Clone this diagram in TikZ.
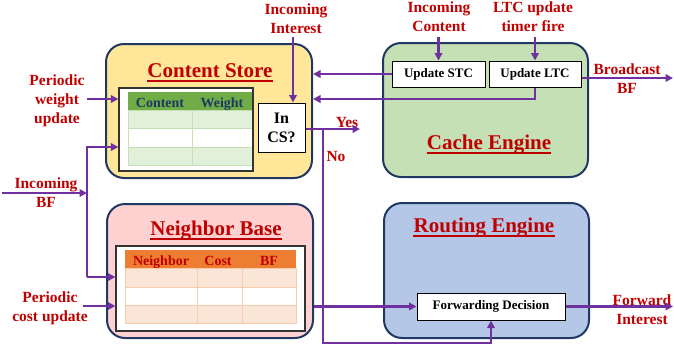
\documentclass[tikz,border=0pt]{standalone}
\usepackage{fontspec}
\setmainfont{Liberation Serif}
\usetikzlibrary{arrows.meta}
\definecolor{navy}{HTML}{1F3864}
\definecolor{pur}{HTML}{7030A0}
\definecolor{dred}{HTML}{C00000}
\definecolor{csfill}{HTML}{FFE699}
\definecolor{cefill}{HTML}{C5E0B4}
\definecolor{nbfill}{HTML}{FFD1D1}
\definecolor{refill}{HTML}{B4C7E7}
\definecolor{tgreen}{HTML}{70AD47}
\definecolor{tgreenl}{HTML}{E2EFDA}
\definecolor{tgreenline}{HTML}{C5E0B4}
\definecolor{torange}{HTML}{ED7D31}
\definecolor{torangel}{HTML}{FBE5D6}
\definecolor{torangeline}{HTML}{F8CBAD}
\begin{document}
\begin{tikzpicture}[x=1pt,y=-1pt,
  bigbox/.style={draw=navy, line width=2pt, rounded corners=18pt, inner sep=0pt},
  smallbox/.style={draw=black, fill=white, line width=1pt, inner sep=0pt, font=\fontsize{13}{15}\selectfont\bfseries},
  innerbox/.style={draw=black!80, fill=white, line width=1.2pt, inner sep=0pt},
  lbl/.style={text=dred, align=center, font=\fontsize{15.5}{19}\selectfont\bfseries, inner sep=0pt},
  ttl/.style={text=dred, font=\fontsize{21}{24}\selectfont\bfseries, inner sep=0pt, anchor=base},
  ul/.style={draw=dred, line width=2.5pt},
  arr/.style={draw=pur, line width=2.2pt, -{Triangle[length=7.5pt,width=7.5pt]}},
  th/.style={font=\fontsize{14}{16}\selectfont\bfseries, inner sep=0pt, anchor=base}
]
\useasboundingbox (0,0) rectangle (674,349);

% big boxes
\node[bigbox, fill=csfill, minimum width=206pt, minimum height=134pt] (cs) at (209,111) {};
\node[bigbox, fill=cefill, minimum width=205pt, minimum height=134pt] (ce) at (485.5,110) {};
\node[bigbox, fill=nbfill, minimum width=206pt, minimum height=134pt] (nb) at (210,271) {};
\node[bigbox, fill=refill, minimum width=205pt, minimum height=135pt] (re) at (486.5,270.5) {};

% titles
\node[ttl] (cst) at (210,77) {Content Store};
\draw[ul] ([yshift=-4pt]cst.base west) -- ([yshift=-4pt]cst.base east);
\node[ttl] (cet) at (489,149) {Cache Engine};
\draw[ul] ([yshift=-4pt]cet.base west) -- ([yshift=-4pt]cet.base east);
\node[ttl] (nbt) at (216,235) {Neighbor Base};
\draw[ul] ([yshift=-4pt]nbt.base west) -- ([yshift=-4pt]nbt.base east);
\node[ttl] (ret) at (484,232) {Routing Engine};
\draw[ul] ([yshift=-4pt]ret.base west) -- ([yshift=-4pt]ret.base east);

% inner boxes
\node[innerbox, minimum width=134pt, minimum height=83pt] (csin) at (186,129.5) {};
\node[innerbox, minimum width=189pt, minimum height=85pt] (nbin) at (210.5,288.5) {};

% content table
\fill[tgreen] (128,92) rectangle (252,110);
\fill[tgreenl] (128,110) rectangle (252,128);
\fill[white] (128,128) rectangle (252,147);
\fill[tgreenl] (128,147) rectangle (252,165);
\draw[tgreenline, line width=1pt] (128,110) -- (252,110) (128,128) -- (252,128)
  (128,147) -- (252,147) (192,110) -- (192,165) (128,110) -- (128,165) -- (252,165);
\node[th, text=navy] (hc1) at (160,107) {Content};
\node[th, text=navy] (hc2) at (222,107) {Weight};

% neighbor table
\fill[torange] (125,250) rectangle (296,268);
\fill[torangel] (125,268) rectangle (296,287);
\fill[white] (125,287) rectangle (296,305);
\fill[torangel] (125,305) rectangle (296,323);
\draw[torangeline, line width=1pt] (125,268) -- (296,268) (125,287) -- (296,287)
  (125,305) -- (296,305) (197,268) -- (197,323) (242,268) -- (242,323)
  (125,268) -- (125,323) -- (296,323) -- (296,268);
\node[th, text=dred] (hn1) at (161,265) {Neighbor};
\node[th, text=dred] (hn2) at (218,265) {Cost};
\node[th, text=dred] (hn3) at (269,265) {BF};

% small boxes
\node[smallbox, minimum width=47pt, minimum height=49pt, align=center,
  font=\fontsize{16}{19}\selectfont\bfseries] (incs) at (281.5,127.5) {In\\CS?};
\node[smallbox, minimum width=93pt, minimum height=26pt] (ustc) at (438.5,74) {Update STC};
\node[smallbox, minimum width=92pt, minimum height=26pt] (ultc) at (535,74) {Update LTC};
\node[smallbox, minimum width=148pt, minimum height=27pt] (fd) at (491,306.5) {Forwarding Decision};

% labels
\node[lbl] (lint) at (296,19) {Incoming\\Interest};
\node[lbl] (lcont) at (439,17) {Incoming\\Content};
\node[lbl] (lltc) at (533,17) {LTC update\\timer fire};
\node[lbl] (lbc) at (627,79) {Broadcast\\BF};
\node[lbl] (lyes) at (347,122) {Yes};
\node[lbl] (lno) at (336,156) {No};
\node[lbl] (lpwu) at (57,101) {Periodic\\weight\\update};
\node[lbl] (libf) at (46,193) {Incoming\\BF};
\node[lbl] (lpcu) at (50,308) {Periodic\\cost update};
\node[lbl] (lfwd) at (642,310) {Forward\\Interest};

% coordinates
\coordinate (topy) at (0,37);
\coordinate (iia) at (293,37);
\coordinate (ltcy) at (0,99);
\coordinate (bcast) at (673,78);
\coordinate (yesend) at (360,0);
\coordinate (yesy) at (0,129);
\coordinate (nobot) at (323,343);
\coordinate (fwd) at (673,0);
\coordinate (pwu) at (87,99);
\coordinate (ibfl) at (2,193);
\coordinate (ibfj) at (87,193);
\coordinate (vtop) at (87,147);
\coordinate (vbot) at (87,277);
\coordinate (pcu) at (83,306);

% connectors
\draw[arr] (iia) -- (iia |- incs.north);
\draw[arr] (ustc.north |- topy) -- (ustc.north);
\draw[arr] (ultc.north |- topy) -- (ultc.north);
\draw[arr] (ustc.west) -- (ustc.west -| cs.east);
\draw[arr] (ultc.south) |- (cs.east |- ltcy);
\draw[arr] (ultc.east |- bcast) -- (bcast);
\draw[arr] (incs.east |- yesy) -- (yesend |- yesy);
\draw[arr] (nobot |- yesy) -- (nobot) -| (fd.south);
\draw[arr] (nb.east |- fd.west) -- (fd.west);
\draw[arr] (fd.east) -- (fd.east -| fwd);
\draw[arr] (pwu) -- (csin.west |- pwu);
\draw[arr] (ibfl) -- (ibfj);
\draw[arr] (vbot) -- (vtop) -- (csin.west |- vtop);
\draw[arr] (vbot) -- (nbin.west |- vbot);
\draw[arr] (pcu) -- (nbin.west |- pcu);
\end{tikzpicture}
\end{document}
